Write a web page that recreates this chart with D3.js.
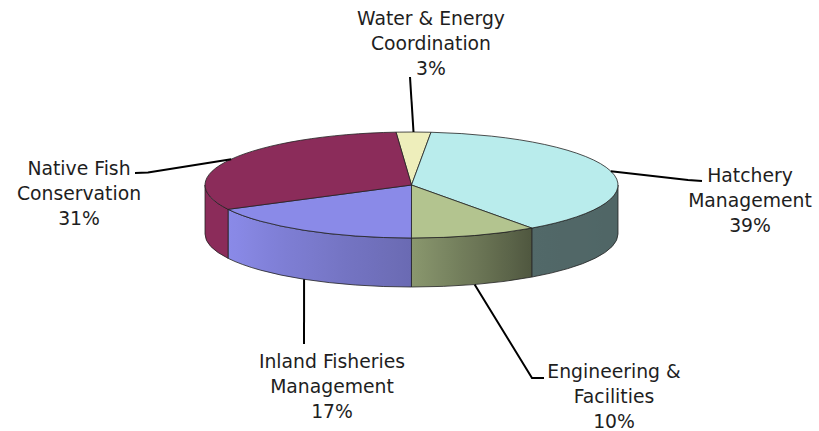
<!DOCTYPE html>
<html>
<head>
<meta charset="utf-8">
<script src="https://cdn.jsdelivr.net/npm/d3@7"></script>
<style>
  html, body { margin: 0; padding: 0; background: #fff; }
  svg { display: block; }
</style>
</head>
<body>
<div id="chart"></div>
<script>
//slices in drawing order, clockwise from the top
const categories = [
  "Water & Energy\nCoordination",
  "Hatchery\nManagement",
  "Engineering &\nFacilities",
  "Inland Fisheries\nManagement",
  "Native Fish\nConservation",
];
const values = [2.7, 38.6, 9.9, 17.4, 31.4];

//slice top colors
const colors = ["#eeeebb", "#b9ecec", "#b3c48f", "#8a8ae8", "#8b2c5a"];

//size
const width = 819;
const height = 431;

//pie geometry (tilted ellipse)
const cx = 411.5;
const cy = 185;
const rx = 206.5;
const ry = 53;
const depth = 49;
const startAngle = (-4.3 * Math.PI) / 180;

//label anchors: text centre, first baseline, leader line
const labelPos = [
  { x: 431, y: 25, edge: "top", path: [[410, 77]] },
  { x: 750, y: 182, edge: "top", path: [[688, 180], [702, 181]] },
  { x: 614, y: 378, edge: "bottom", path: [[532, 378], [544, 378]] },
  { x: 332, y: 368, edge: "bottom", path: [[304, 344]] },
  { x: 79, y: 175, edge: "top", path: [[148, 172.5], [135, 173]] },
];
const lineHeight = 25;

const total = d3.sum(values);
const data = values.map((v, i) => ({
  name: categories[i],
  value: v,
  pct: Math.round((v / total) * 100),
  color: colors[i],
}));

const arcs = d3
  .pie()
  .sort(null)
  .value((d) => d.value)
  .startAngle(startAngle)
  .endAngle(startAngle + 2 * Math.PI)(data);

//point on the ellipse, angle clockwise from 12 o'clock
const pt = (a, dy = 0) => [cx + rx * Math.sin(a), cy - ry * Math.cos(a) + dy];

//side brightness by angle (light from the left front)
const shade = d3
  .scaleLinear()
  .domain([90, 144, 180, 240, 275].map((d) => (d * Math.PI) / 180))
  .range([0.43, 0.44, 0.77, 1.0, 1.0])
  .clamp(true);

const svg = d3
  .select("#chart")
  .append("svg")
  .attr("width", width)
  .attr("height", height);

const defs = svg.append("defs");

//draw sides (only the front half is visible)
const sides = svg.append("g").attr("class", "sides");
arcs.forEach((d, i) => {
  const s = Math.max(d.startAngle, Math.PI / 2);
  const e = Math.min(d.endAngle, (3 * Math.PI) / 2);
  if (e <= s) return;

  const p0 = pt(s);
  const p1 = pt(e);
  const p2 = pt(e, depth);
  const p3 = pt(s, depth);

  //gradient across the wall, sampled by angle
  const x0 = Math.min(p0[0], p1[0]);
  const x1 = Math.max(p0[0], p1[0]);
  const base = d3.rgb(d.data.color);
  const stops = d3
    .range(0, 1.0001, 0.1)
    .map((t) => {
      const a = s + (e - s) * t;
      const k = shade(a);
      return {
        offset: x1 > x0 ? (pt(a)[0] - x0) / (x1 - x0) : 0,
        color: d3.rgb(base.r * k, base.g * k, base.b * k).formatHex(),
      };
    })
    .sort((a, b) => a.offset - b.offset);

  defs
    .append("linearGradient")
    .attr("id", "side" + i)
    .attr("gradientUnits", "userSpaceOnUse")
    .attr("x1", x0)
    .attr("x2", x1)
    .attr("y1", 0)
    .attr("y2", 0)
    .selectAll("stop")
    .data(stops)
    .join("stop")
    .attr("offset", (d) => d.offset)
    .attr("stop-color", (d) => d.color);

  sides
    .append("path")
    .attr(
      "d",
      `M${p0}A${rx},${ry} 0 0 1 ${p1}L${p2}A${rx},${ry} 0 0 0 ${p3}Z`
    )
    .attr("fill", `url(#side${i})`)
    .attr("stroke", "#222")
    .attr("stroke-width", 0.8)
    .attr("stroke-linejoin", "round");
});

//draw tops
svg
  .append("g")
  .attr("class", "tops")
  .selectAll("path")
  .data(arcs)
  .join("path")
  .attr("d", (d) => {
    const a0 = pt(d.startAngle);
    const a1 = pt(d.endAngle);
    const large = d.endAngle - d.startAngle > Math.PI ? 1 : 0;
    return `M${cx},${cy}L${a0}A${rx},${ry} 0 ${large} 1 ${a1}Z`;
  })
  .attr("fill", (d) => d.data.color)
  .attr("stroke", "#222")
  .attr("stroke-width", 0.8)
  .attr("stroke-linejoin", "round");

//leader lines
svg
  .append("g")
  .attr("class", "leaders")
  .selectAll("path")
  .data(arcs)
  .join("path")
  .attr("d", (d, i) => {
    const mid = (d.startAngle + d.endAngle) / 2;
    const lp = labelPos[i];
    const start = pt(mid, lp.edge == "bottom" ? depth : 0);
    return d3.line()([start, ...lp.path]);
  })
  .attr("fill", "none")
  .attr("stroke", "#000")
  .attr("stroke-width", 2);

//labels
const label = svg
  .append("g")
  .attr("class", "labels")
  .attr("font-family", "'DejaVu Sans', Verdana, sans-serif")
  .attr("font-size", 18.8)
  .attr("fill", "#1e1e1e")
  .attr("text-anchor", "middle")
  .selectAll("text")
  .data(arcs)
  .join("text")
  .attr("x", (d, i) => labelPos[i].x)
  .attr("y", (d, i) => labelPos[i].y);

label
  .selectAll("tspan")
  .data((d) => [...d.data.name.split("\n"), d.data.pct + "%"])
  .join("tspan")
  .attr("x", function () {
    return this.parentNode.getAttribute("x");
  })
  .attr("dy", (d, j) => (j == 0 ? 0 : lineHeight))
  .text((d) => d);
</script>
</body>
</html>
